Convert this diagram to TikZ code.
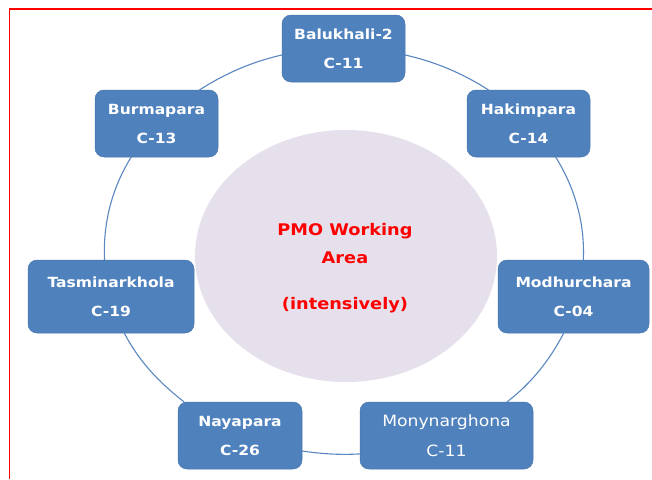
\documentclass[tikz,border=0pt]{standalone}
\usepackage{fontspec}
\usetikzlibrary{shapes.geometric}
\newfontfamily\dvfont{DejaVu Sans}[FakeStretch=1.11]
\definecolor{boxblue}{HTML}{4F81BD}
\definecolor{ringblue}{HTML}{5A87C0}
\definecolor{lav}{HTML}{E5E0EC}
\begin{document}
\begin{tikzpicture}[x=1pt,y=1pt,
  cbox/.style={rectangle, rounded corners=9pt, fill=boxblue, draw=boxblue!92!black, line width=0.5pt,
    text=white, align=center, inner sep=0pt, outer sep=0pt,
    font=\dvfont\bfseries\fontsize{14}{29}\selectfont},
  ring/.style={draw=ringblue, line width=1.1pt, looseness=0.88},
  frame/.style={draw=red, line width=1.3pt}]
\useasboundingbox (0,0) rectangle (652,-479);
\fill[white] (0,0) rectangle (652,-479);
\draw[frame] (9.5,-479) -- (9.5,-9) -- (652,-9);

\node[ellipse, fill=lav, minimum width=302pt, minimum height=252pt, inner sep=0pt] (pmo) at (346,-256) {};
\node[text=red, align=center, font=\dvfont\bfseries\fontsize{16}{28}\selectfont] (pmotext) at (345,-268) {PMO Working\\Area\\[18pt](intensively)};

\node[cbox, minimum width=123pt, minimum height=67pt] (bal) at (343.5,-48.5) {Balukhali-2\\C-11};
\node[cbox, minimum width=123pt, minimum height=67pt] (hak) at (528.5,-123.5) {Hakimpara\\C-14};
\node[cbox, minimum width=123pt, minimum height=67pt] (bur) at (156.5,-123.5) {Burmapara\\C-13};
\node[cbox, minimum width=166pt, minimum height=73pt] (tas) at (111,-296.5) {Tasminarkhola\\C-19};
\node[cbox, minimum width=151pt, minimum height=73pt] (mod) at (573.5,-296.5) {Modhurchara\\C-04};
\node[cbox, minimum width=124pt, minimum height=67pt] (nay) at (240,-435.5) {Nayapara\\C-26};
\node[cbox, minimum width=173pt, minimum height=67pt, font=\dvfont\fontsize{15.5}{29.5}\selectfont] (mon) at (446.5,-435.5) {Monynarghona\\C-11};

\draw[ring] (bal.-6.8) to[out=-12.7,in=147.4] (hak.140.5);
\draw[ring] (hak.-51.5) to[out=-58,in=87.3] (mod.75.7);
\draw[ring] (mod.-105.9) to[out=-117.2,in=37.7] (mon.29.9);
\draw[ring] (mon.192.4) to[out=-176.6,in=-8.5] (nay.-14.8);
\draw[ring] (nay.149.9) to[out=142.3,in=-62.8] (tas.-70.5);
\draw[ring] (tas.100.6) to[out=92.7,in=-122] (bur.233.7);
\draw[ring] (bur.38.1) to[out=32.6,in=-167.3] (bal.186.8);
\end{tikzpicture}
\end{document}
